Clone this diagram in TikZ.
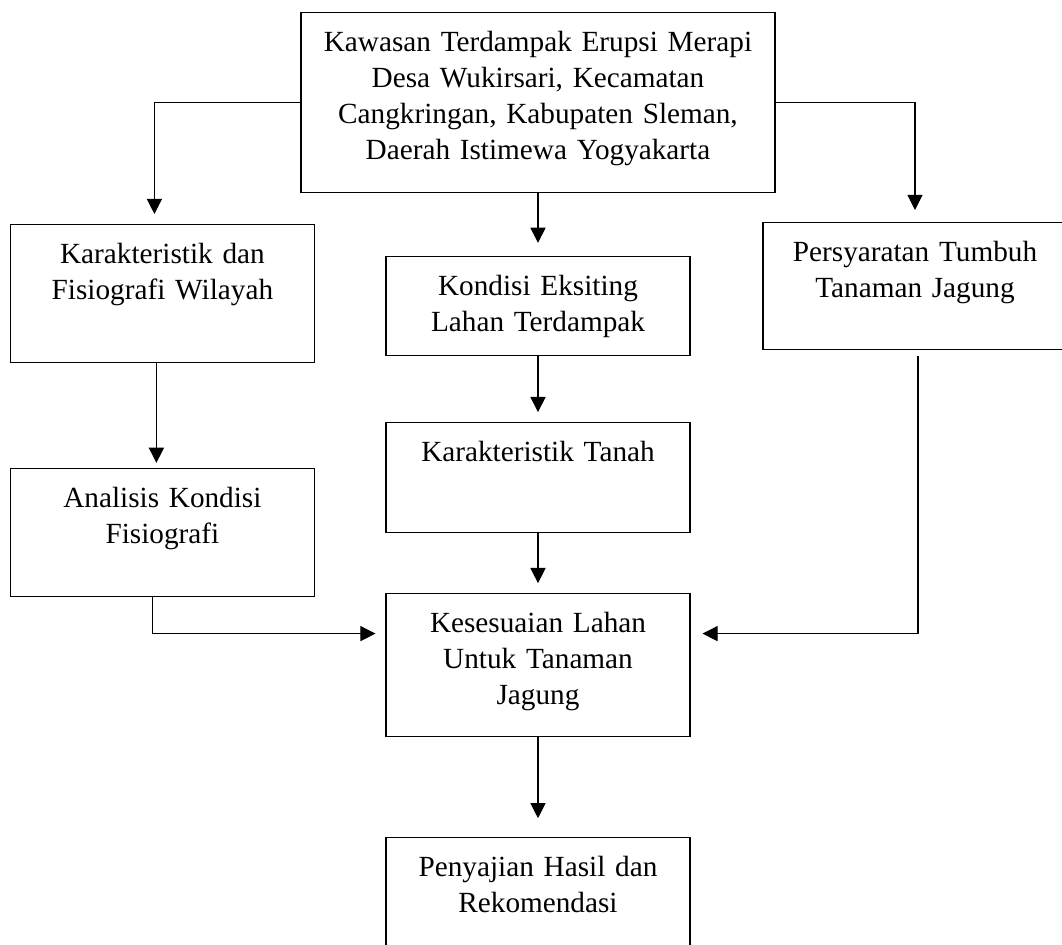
\documentclass[tikz,border=0pt]{standalone}
\usepackage{fontspec}
\setmainfont{Liberation Serif}
\usepackage{tikz}
\usetikzlibrary{positioning}
\usetikzlibrary{arrows.meta}
\tikzstyle{box} = [rectangle, draw=black, line width=0.75pt, text width=7.6cm, align=center, inner sep=0pt, text height=0.975cm, font=\fontsize{20.8}{25.6}\selectfont]
\tikzstyle{arrow} = [line width=0.75pt,->,>={Triangle[length=0.38cm,width=0.38cm]}]

\begin{document}
\begin{tikzpicture}
        \useasboundingbox (0,0) rectangle (26.55,-23.625);
        \node (kawasan) [box, text width=11.85cm, text depth=3.525cm, anchor=north] at (13.45,-0.3) {Kawasan Terdampak Erupsi Merapi\\Desa Wukirsari, Kecamatan\\Cangkringan, Kabupaten Sleman,\\Daerah Istimewa Yogyakarta};
        \node (karak) [box, text depth=2.475cm, anchor=north] at (4.06,-5.6) {Karakteristik dan\\Fisiografi Wilayah};
        \node (kondisi) [box, below=1.575cm of kawasan, text depth=1.5cm] {Kondisi Eksiting\\Lahan Terdampak};
        \node (syarat) [box, text depth=2.2cm, anchor=north] at (22.875,-5.55) {Persyaratan Tumbuh\\Tanaman Jagung};
        \node (analisis) [box, below=2.625cm of karak, text depth=2.225cm] {Analisis Kondisi\\Fisiografi};
        \node (tanah) [box, below=1.65cm of kondisi, text depth=1.775cm] {Karakteristik Tanah};
        \node (sesuai) [box, below=1.5cm of tanah, text depth=2.6cm] {Kesesuaian Lahan\\Untuk Tanaman\\Jagung};
        \node (hasil) [box, below=2.5cm of sesuai, text depth=2.525cm] {Penyajian Hasil dan\\Rekomendasi};

        \draw [arrow, shorten >=0.25cm] (kawasan.west) -| ([xshift=-0.2cm]karak.north);
        \draw [arrow, shorten >=0.3cm] (kawasan.east) -| (syarat.north);
        \draw [arrow, shorten >=0.33cm] (kawasan) -- (kondisi);
        \draw [arrow, shorten >=0.13cm] ([xshift=-0.15cm]karak.south) -- ([xshift=-0.15cm]analisis.north);
        \draw [arrow, shorten >=0.25cm] (kondisi) -- (tanah);
        \draw [arrow, shorten >=0.25cm] (tanah) -- (sesuai);
        \draw [arrow, shorten >=0.25cm] ([xshift=-0.24cm]analisis.south) |- ([yshift=0.79cm]sesuai.west);
        \draw [arrow, shorten <=0.15cm, shorten >=0.3cm] ([xshift=0.075cm]syarat.south) |- ([yshift=0.79cm]sesuai.east);
        \draw [arrow, shorten >=0.475cm] (sesuai) -- (hasil);
    \end{tikzpicture}
\end{document}
